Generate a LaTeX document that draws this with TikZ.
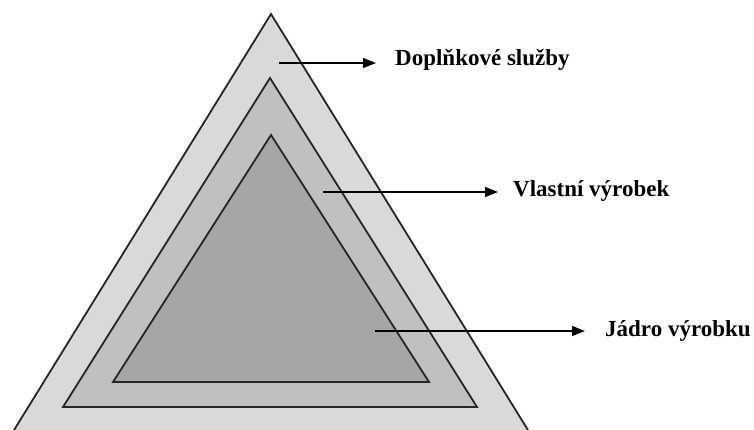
\documentclass[tikz,border=0pt]{standalone}
\usepackage{fontspec}
\setmainfont{Liberation Serif}
\usetikzlibrary{arrows.meta,positioning}
\definecolor{layerout}{RGB}{217,217,217}
\definecolor{layermid}{RGB}{192,192,192}
\definecolor{layerin}{RGB}{166,166,166}
\tikzset{
 layer/.style={
 draw=black!85,
 line width=1.8pt,
 line join=miter
 },
 tag/.style={
 font=\fontsize{23}{27}\selectfont\bfseries,
 inner sep=0pt,
 anchor=base west
 },
 pointer/.style={-{Triangle[length=13pt,width=10pt]}, line width=1.3pt}
}

\begin{document}
\begin{tikzpicture}[x=1pt,y=-1pt]
 \useasboundingbox (0,0) rectangle (754,430);
 \clip (0,0) rectangle (754,430);

 % product layers
 \filldraw[layer, fill=layerout] (271,14) -- (544,456) -- (-2,456) -- cycle;
 \filldraw[layer, fill=layermid] (270,78) -- (477,407) -- (63,407) -- cycle;
 \filldraw[layer, fill=layerin] (271,135) -- (429,382) -- (113,382) -- cycle;

 \coordinate (s1) at (279,63);
 \coordinate (s2) at (323,192);
 \coordinate (s3) at (375,331);

 \node[tag] (t1) at (395,65.5) {Doplňkové služby};
 \node[tag] (t2) at (513,196.5) {Vlastní výrobek};
 \node[tag] (t3) at (605,336) {Jádro výrobku};

 \draw[pointer, shorten >=19pt] (s1) -- (s1 -| t1.west);
 \draw[pointer, shorten >=15pt] (s2) -- (s2 -| t2.west);
 \draw[pointer, shorten >=20pt] (s3) -- (s3 -| t3.west);
\end{tikzpicture}
\end{document}
